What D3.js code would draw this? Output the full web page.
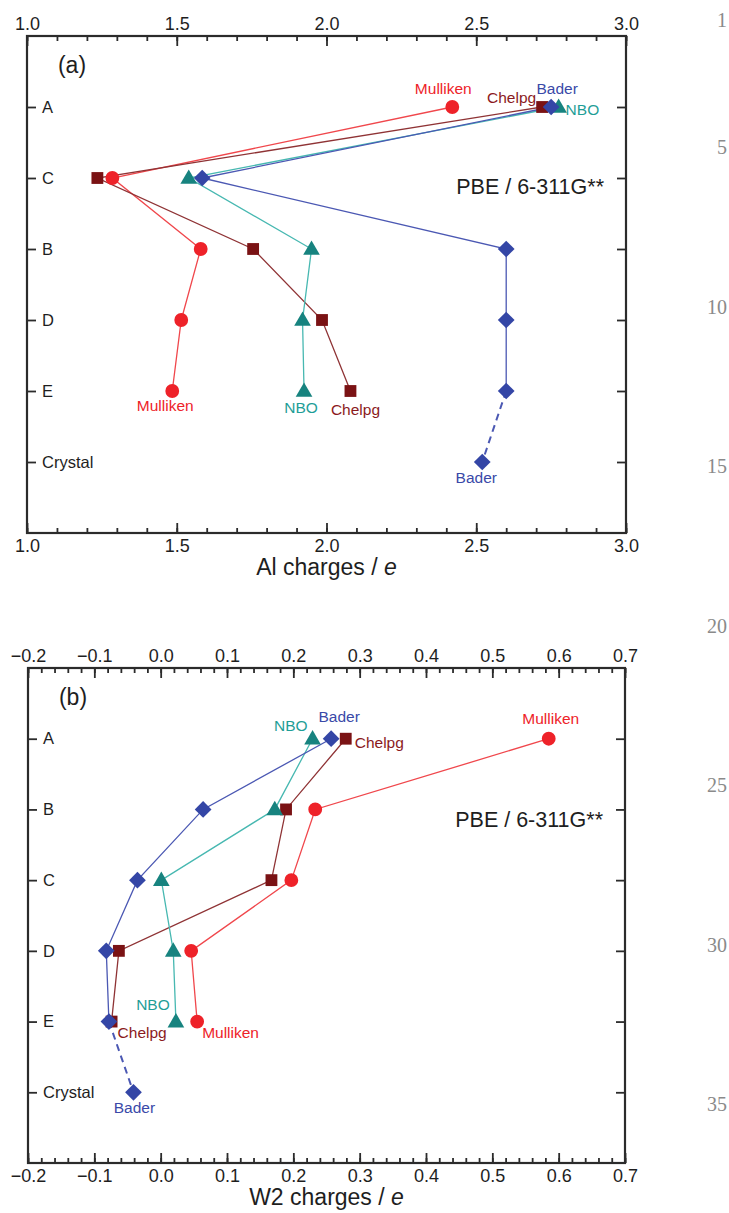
<!DOCTYPE html>
<html>
<head>
<meta charset="utf-8">
<script src="https://cdn.jsdelivr.net/npm/d3@7"></script>
<style>
  body { margin: 0; background: #fff; }
  svg text { font-family: "Liberation Sans", Arial, sans-serif; }
</style>
</head>
<body>
<svg id="fig" width="729" height="1213"></svg>
<script>

// categories (top to bottom) for each panel
var catsA = ["A", "C", "B", "D", "E", "Crystal"];
var catsB = ["A", "B", "C", "D", "E", "Crystal"];

// panel (a) : Al charges
var mullikenA = [2.42, 1.285, 1.58, 1.515, 1.485];
var chelpgA   = [2.72, 1.235, 1.755, 1.985, 2.08];
var nboA      = [2.775, 1.54, 1.95, 1.92, 1.925];
var baderA    = [2.75, 1.585, 2.60, 2.60, 2.60, 2.52];

// panel (b) : W2 charges
var mullikenB = [0.585, 0.233, 0.197, 0.046, 0.055];
var chelpgB   = [0.279, 0.189, 0.167, -0.063, -0.074];
var nboB      = [0.229, 0.172, 0.001, 0.019, 0.023];
var baderB    = [0.257, 0.064, -0.035, -0.082, -0.078, -0.041];

// tick labels
var ticksA = [1.0, 1.5, 2.0, 2.5, 3.0];
var ticksB = [-0.2, -0.1, 0.0, 0.1, 0.2, 0.3, 0.4, 0.5, 0.6, 0.7];

// manuscript line numbers on the right margin
var lineNumbers = [1, 5, 10, 15, 20, 25, 30, 35];


var svg = d3.select("#fig");

// custom diamond (square rotated), d3 one is too narrow
var diamond = {
    draw: function(ctx, size) {
        var r = Math.sqrt(size / 2);
        ctx.moveTo(0, -r); ctx.lineTo(r, 0); ctx.lineTo(0, r); ctx.lineTo(-r, 0); ctx.closePath();
    }
};

var styles = {
    Mulliken: { mark: "#ee2229", line: "#f0474c", text: "#ee2229", sym: d3.symbolCircle,   size: 150 },
    Chelpg:   { mark: "#7a1214", line: "#8f3335", text: "#8b1a1d", sym: d3.symbolSquare,   size: 140 },
    NBO:      { mark: "#17837f", line: "#47b8b1", text: "#1f9e97", sym: d3.symbolTriangle, size: 120 },
    Bader:    { mark: "#3446a6", line: "#4b58b3", text: "#3a49a8", sym: diamond,           size: 140 }
};


function drawPanel(p) {

    var x = d3.scaleLinear().domain(p.xDomain).range([p.left, p.right]);
    var y = d3.scalePoint().domain(p.cats).range([p.top, p.bottom]).padding(1);

    var g = svg.append("g");

    // minor + major ticks, top and bottom, pointing inward
    var minor = d3.range(p.xDomain[0], p.xDomain[1] + p.minorStep / 2, p.minorStep);

    g.append("g")
        .attr("transform", "translate(0," + p.bottom + ")")
        .call(d3.axisBottom(x).tickValues(minor).tickSize(-5).tickFormat(""));
    g.append("g")
        .attr("transform", "translate(0," + p.top + ")")
        .call(d3.axisTop(x).tickValues(minor).tickSize(-5).tickFormat(""));

    g.append("g")
        .attr("class", "major")
        .attr("transform", "translate(0," + p.bottom + ")")
        .call(d3.axisBottom(x).tickValues(p.ticks).tickSize(-10).tickPadding(6).tickFormat(d3.format(".1f")));
    g.append("g")
        .attr("class", "major")
        .attr("transform", "translate(0," + p.top + ")")
        .call(d3.axisTop(x).tickValues(p.ticks).tickSize(-10).tickPadding(6).tickFormat(d3.format(".1f")));

    // categories: labels inside the frame
    g.append("g")
        .attr("class", "cat")
        .attr("transform", "translate(" + p.left + ",0)")
        .call(d3.axisRight(y).tickSize(9).tickPadding(6));
    g.append("g")
        .attr("transform", "translate(" + p.right + ",0)")
        .call(d3.axisLeft(y).tickSize(9).tickFormat(""));

    g.selectAll(".domain").remove();
    g.selectAll(".tick line").attr("stroke", "#2b2b2b").attr("stroke-width", 1.8);
    g.selectAll(".major text").attr("font-size", 18).attr("fill", "#1e1e1e")
        .style("font-family", "'Liberation Sans', Arial, sans-serif");
    g.selectAll(".cat text").attr("font-size", 16.5).attr("fill", "#1e1e1e")
        .style("font-family", "'Liberation Sans', Arial, sans-serif");

    g.append("rect")
        .attr("x", p.left).attr("y", p.top)
        .attr("width", p.right - p.left).attr("height", p.bottom - p.top)
        .attr("fill", "none").attr("stroke", "#2b2b2b").attr("stroke-width", 2.2);

    // series
    var line = d3.line()
        .x(function(d) { return x(d.v); })
        .y(function(d) { return y(d.c); });

    p.series.forEach(function(s) {
        var st = styles[s.name];
        var pts = s.values.map(function(v, i) { return { v: v, c: p.cats[i] }; });
        var solid = s.name === "Bader" ? pts.slice(0, 5) : pts;

        g.append("path")
            .attr("d", line(solid))
            .attr("fill", "none").attr("stroke", st.line).attr("stroke-width", 1.3);

        if (s.name === "Bader") {
            g.append("path")
                .attr("d", line(pts.slice(4)))
                .attr("fill", "none").attr("stroke", st.line).attr("stroke-width", 2)
                .attr("stroke-dasharray", "7,5");
        }
    });

    p.series.forEach(function(s) {
        var st = styles[s.name];
        g.selectAll(null)
            .data(s.values)
            .enter()
            .append("path")
                .attr("d", d3.symbol().type(st.sym).size(st.size))
                .attr("transform", function(v, i) {
                    var dy = st.sym === d3.symbolTriangle ? 1 : 0;
                    return "translate(" + x(v) + "," + (y(p.cats[i]) + dy) + ")";
                })
                .attr("fill", st.mark);
    });

    // series labels next to points
    p.labels.forEach(function(l) {
        var s = p.series.filter(function(d) { return d.name === l[0]; })[0];
        g.append("text")
            .attr("x", x(s.values[l[1]]) + l[2])
            .attr("y", y(p.cats[l[1]]) + l[3])
            .attr("text-anchor", l[4])
            .attr("dominant-baseline", "middle")
            .attr("font-size", 15.5)
            .attr("fill", styles[l[0]].text)
            .text(l[0]);
    });

    g.append("text")
        .attr("x", p.left + 45).attr("y", p.top + 31)
        .attr("text-anchor", "middle").attr("dominant-baseline", "middle")
        .attr("font-size", 23).attr("fill", "#1e1e1e")
        .text(p.tag);

    g.append("text")
        .attr("x", p.right - 22).attr("y", y(p.cats[1]) + p.methodDy)
        .attr("text-anchor", "end").attr("dominant-baseline", "middle")
        .attr("font-size", 21.5).attr("fill", "#1e1e1e")
        .text("PBE / 6-311G**");

    var title = g.append("text")
        .attr("x", (p.left + p.right) / 2).attr("y", p.bottom + 36)
        .attr("text-anchor", "middle").attr("dominant-baseline", "middle")
        .attr("font-size", 23).attr("fill", "#1e1e1e");
    title.append("tspan").text(p.xTitle + " / ");
    title.append("tspan").attr("font-style", "italic").text("e");
}


drawPanel({
    cats: catsA, xDomain: [1.0, 3.0], ticks: ticksA, minorStep: 0.1,
    left: 27, right: 626, top: 36, bottom: 533,
    tag: "(a)", xTitle: "Al charges", methodDy: 10,
    series: [
        { name: "Mulliken", values: mullikenA },
        { name: "Chelpg",   values: chelpgA },
        { name: "NBO",      values: nboA },
        { name: "Bader",    values: baderA }
    ],
    // name, category index, dx, dy, anchor
    labels: [
        ["Mulliken", 0, -9, -17, "middle"],
        ["Chelpg", 0, -6, -8, "end"],
        ["Bader", 0, 6, -17, "middle"],
        ["NBO", 0, 7, 4, "start"],
        ["Mulliken", 4, -7, 16, "middle"],
        ["NBO", 4, -3, 18, "middle"],
        ["Chelpg", 4, 5, 20, "middle"],
        ["Bader", 5, -6, 17, "middle"]
    ]
});

drawPanel({
    cats: catsB, xDomain: [-0.2, 0.7], ticks: ticksB, minorStep: 0.02,
    left: 28, right: 625, top: 668, bottom: 1163,
    tag: "(b)", xTitle: "W2 charges", methodDy: 12,
    series: [
        { name: "Mulliken", values: mullikenB },
        { name: "Chelpg",   values: chelpgB },
        { name: "NBO",      values: nboB },
        { name: "Bader",    values: baderB }
    ],
    labels: [
        ["NBO", 0, -5, -12, "end"],
        ["Bader", 0, 8, -21, "middle"],
        ["Chelpg", 0, 9, 5, "start"],
        ["Mulliken", 0, 2, -19, "middle"],
        ["NBO", 4, -23, -16, "middle"],
        ["Chelpg", 4, 6, 12, "start"],
        ["Mulliken", 4, 5, 12, "start"],
        ["Bader", 5, 1, 17, "middle"]
    ]
});

svg.selectAll(".lineno")
    .data(lineNumbers)
    .enter()
    .append("text")
        .attr("class", "lineno")
        .attr("x", 727)
        .attr("y", function(n) { return 22 + (n - 1) * 31.9; })
        .attr("text-anchor", "end")
        .attr("dominant-baseline", "middle")
        .attr("font-size", 20)
        .attr("fill", "#8a8a8a")
        .style("font-family", "'Liberation Serif', 'DejaVu Serif', serif")
        .text(function(n) { return n; });

</script>
</body>
</html>
